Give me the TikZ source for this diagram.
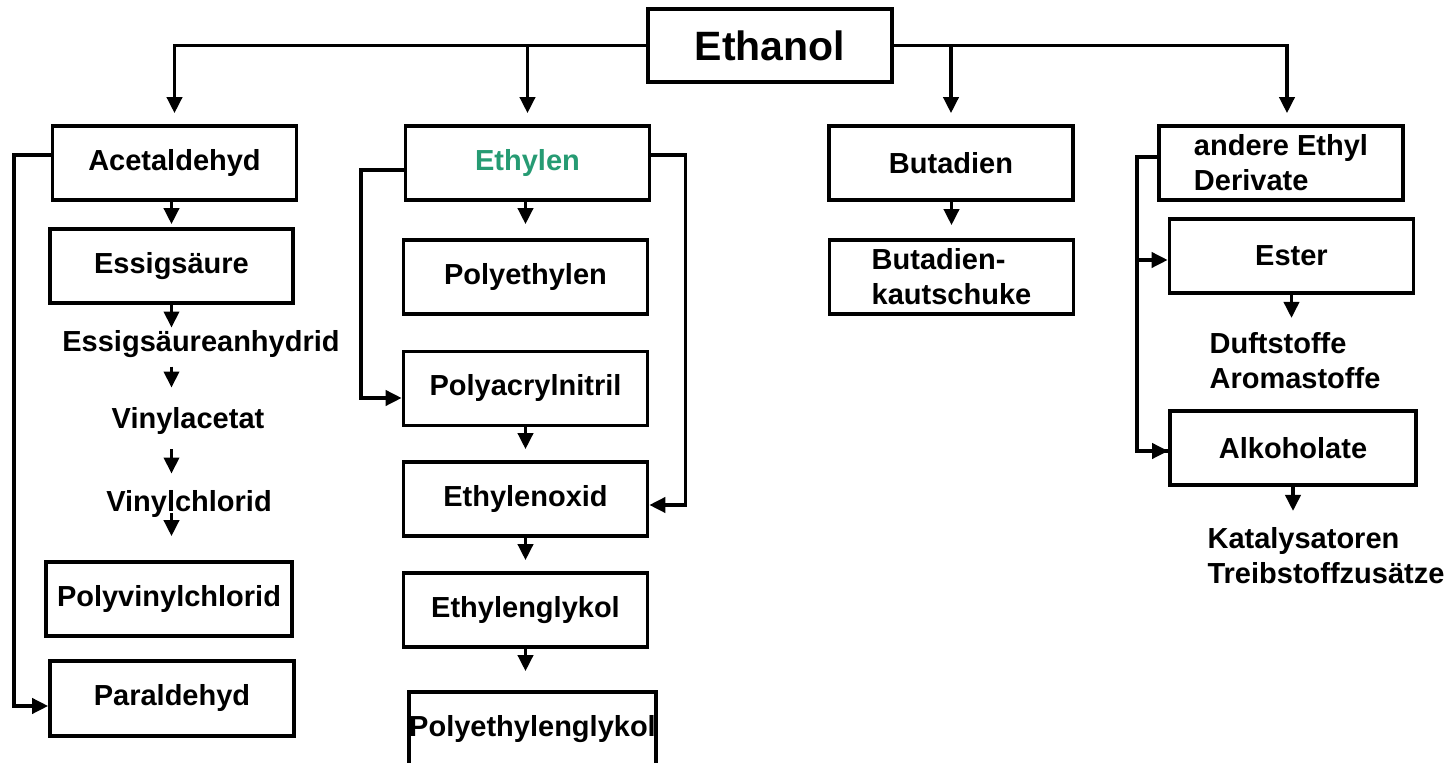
\documentclass[tikz,border=0pt]{standalone}
\usepackage{fontspec}
\setmainfont{Liberation Sans}
\usetikzlibrary{arrows.meta}
\definecolor{ethygreen}{RGB}{38,155,115}
\tikzset{
  txt/.style={font=\bfseries\fontsize{14.5}{17.5}\selectfont},
  box/.style={txt, draw, line width=1.8pt, minimum width=122pt,
    minimum height=37pt, inner sep=0pt, align=center},
  lbl/.style={txt, inner sep=0pt, align=left},
  wire/.style={line width=1.8pt},
  arr/.style={wire, -{Triangle[width=7.5pt,length=8pt]}},
}
\begin{document}
\begin{tikzpicture}[x=0.5pt,y=-0.5pt]
\clip (0,0) rectangle (1452,763);
\fill[white] (0,0) rectangle (1452,763);

% root
\node[box, minimum width=122pt, minimum height=36.5pt,
  font=\bfseries\fontsize{20.5}{24}\selectfont] (eth) at (770,45.5) {Ethanol};

% first level
\node[box] (acet) at (174.5,163) {Acetaldehyd};
\node[box, text=ethygreen] (ethy) at (527.5,163) {Ethylen};
\node[box] (buta) at (951,163) {Butadien};
\node[box, align=left] (andr) at (1281,163) {andere Ethyl\\Derivate};

% acetaldehyde branch
\node[box, minimum width=121.5pt] (essig) at (171.5,266) {Essigsäure};
\node[lbl, anchor=base] (esan) at (201,352) {Essigsäureanhydrid};
\node[lbl, anchor=base] (vinac) at (188,429) {Vinylacetat};
\node[lbl, anchor=base] (vincl) at (189,512) {Vinylchlorid};
\node[box, minimum width=123pt] (pvc) at (169,599) {Polyvinylchlorid};
\node[box, minimum height=37.5pt] (para) at (172,698.5) {Paraldehyd};

% ethylene branch
\node[box] (pe) at (525.5,277) {Polyethylen};
\node[box] (pan) at (525.5,388.5) {Polyacrylnitril};
\node[box] (eo) at (525.5,499) {Ethylenoxid};
\node[box] (eg) at (525.5,610) {Ethylenglykol};
\node[box, minimum width=120.5pt] (peg) at (532.5,729) {Polyethylenglykol};

% butadiene branch
\node[box, align=left] (bk) at (951.5,277) {Butadien-\\kautschuke};

% other ethyl derivatives
\node[box] (ester) at (1291.5,256) {Ester};
\node[lbl, anchor=north] (duft) at (1295,332) {Duftstoffe\\Aromastoffe};
\node[box, minimum width=123pt] (alk) at (1293,448) {Alkoholate};
\node[lbl, anchor=north] (kat) at (1326,527) {Katalysatoren\\Treibstoffzusätze};

% trunk from Ethanol
\draw[arr, shorten >=5.5pt] (eth.west) -| (acet.north);
\draw[arr, shorten >=5.5pt] (eth.west -| ethy.north) -- (ethy.north);
\draw[arr, shorten >=5.5pt] (eth.east -| buta.north) -- (buta.north);
\draw[arr, shorten >=5.5pt] (eth.east) -| ([xshift=3pt]andr.north);

% acetaldehyde chain
\draw[arr, shorten >=1.5pt] (essig.north |- acet.south) -- (essig.north);
\draw[arr, shorten >=1.5pt] (essig.south) -- (essig.south |- esan.north);
\draw[arr, shorten <=4pt, shorten >=10pt] (esan.south -| essig.south) -- (essig.south |- vinac.north);
\draw[arr, shorten <=7pt, shorten >=8.5pt] (vinac.south -| essig.south) -- (essig.south |- vincl.north);
\draw[arr, shorten <=-2.5pt, shorten >=12pt] (vincl.south -| essig.south) -- (essig.south |- pvc.north);
\draw[arr] ([yshift=4pt]acet.west) -- ++(-37,0) |- ([yshift=-3.75pt]para.west);

% ethylene chain
\draw[arr, shorten >=7pt] (pe.north |- ethy.south) -- (pe.north);
\draw[arr, shorten >=5.5pt] (pan.south) -- (eo.north);
\draw[arr, shorten >=5.5pt] (eo.south) -- (eg.north);
\draw[arr, shorten >=9.5pt] (eg.south) -- (eg.south |- peg.north);
\draw[arr] ([yshift=-3.5pt]ethy.west) -- ++(-43,0) |- ([yshift=-4.75pt]pan.west);
\draw[arr] ([yshift=4pt]ethy.east) -- ++(34,0) |- ([yshift=-3pt]eo.east);

% butadiene
\draw[arr, shorten >=6.5pt] (bk.north |- buta.south) -- (bk.north);

% other ethyl derivatives
\draw[wire] ([yshift=3pt]andr.west) -- ++(-20,0) coordinate (bus) |- ([yshift=-1.5pt]alk.west);
\draw[arr] (bus |- alk.west) ++(0,3) -- ([yshift=-1.5pt]alk.west);
\draw[arr] (bus |- ester.west) ++(0,4) -- ([yshift=-2pt]ester.west);
\draw[arr, shorten >=7pt] (ester.south) -- (ester.south |- duft.north);
\draw[arr, shorten >=8pt] (alk.south) -- (alk.south |- kat.north);
\end{tikzpicture}
\end{document}
